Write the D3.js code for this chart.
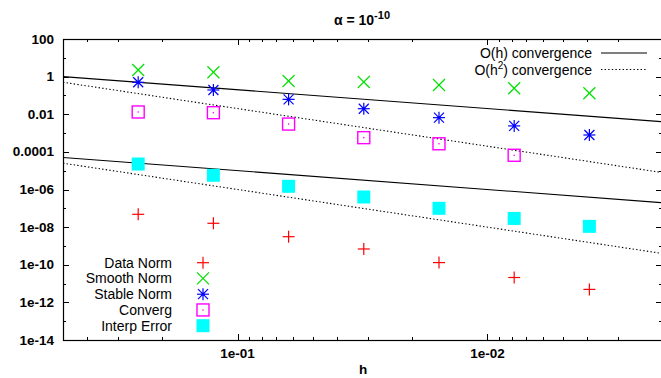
<!DOCTYPE html>
<html>
<head>
<meta charset="utf-8">
<script src="https://cdn.jsdelivr.net/npm/d3@7"></script>
<style>
	body { margin: 0; background: #fff; }
	svg { display: block; font-family: "Liberation Sans", Arial, Helvetica, sans-serif; }
</style>
</head>
<body>
<div id="chart"></div>
<script>
// mesh sizes
var hValues = [0.25, 0.125, 0.0625, 0.03125, 0.015625, 0.0078125, 0.00390625];

// error norms
var dataNorm = [4.8e-8, 1.6e-8, 3.1e-9, 6.9e-10, 1.3e-10, 2.1e-11, 4.9e-12];
var smoothNorm = [2.25, 1.7, 0.585, 0.52, 0.36, 0.24, 0.13];
var stableNorm = [0.5, 0.195, 0.062, 0.0197, 0.0066, 0.0024, 0.00079];
var converg = [0.0132, 0.0121, 0.003, 0.00057, 0.00027, 0.000066];
var interpError = [2.26e-5, 5.7e-6, 1.48e-6, 4.0e-7, 1.0e-7, 2.9e-8, 1.1e-8];

// reference slopes: c*h and c*h^2
var orderOneCoef = [2, 1e-4];
var orderTwoCoef = [2, 1e-4];

var yTickValues = [100, 1, 0.01, 0.0001, 1e-6, 1e-8, 1e-10, 1e-12, 1e-14];
var yTickLabels = ["100", "1", "0.01", "0.0001", "1e-06", "1e-08", "1e-10", "1e-12", "1e-14"];
var yMinorValues = [10, 0.1, 0.001, 1e-5, 1e-7, 1e-9, 1e-11, 1e-13];
var xTickValues = [0.1, 0.01];
var xTickLabels = ["1e-01", "1e-02"];

var series = [
	{name: "Data Norm", values: dataNorm, type: "plus", color: "#ff0000"},
	{name: "Smooth Norm", values: smoothNorm, type: "cross", color: "#00e000"},
	{name: "Stable Norm", values: stableNorm, type: "star", color: "#0000ff"},
	{name: "Converg", values: converg, type: "box", color: "#ff00ff"},
	{name: "Interp Error", values: interpError, type: "fbox", color: "#00ffff"}
];

var W = 661, H = 378;
var mLeft = 63, mRight = 662, mTop = 39, mBottom = 340;

var x = d3.scaleLog().domain([0.5, 0.002]).range([mLeft, mRight]);
var y = d3.scaleLog().domain([1e-14, 100]).range([mBottom, mTop]);

var svg = d3.select("#chart").append("svg")
	.attr("width", W)
	.attr("height", H);

svg.append("clipPath").attr("id", "plotclip")
	.append("rect")
	.attr("x", mLeft).attr("y", mTop)
	.attr("width", mRight - mLeft).attr("height", mBottom - mTop);

function marker(g, type, cx, cy, color) {
	var s = 6;
	if (type == "plus" || type == "star") {
		g.append("line").attr("x1", cx - s).attr("x2", cx + s).attr("y1", cy).attr("y2", cy)
			.attr("stroke", color).attr("stroke-width", 1.2);
		g.append("line").attr("x1", cx).attr("x2", cx).attr("y1", cy - s).attr("y2", cy + s)
			.attr("stroke", color).attr("stroke-width", 1.2);
	}
	if (type == "cross" || type == "star") {
		var d = type == "star" ? 5 : 6;
		g.append("line").attr("x1", cx - d).attr("x2", cx + d).attr("y1", cy - d).attr("y2", cy + d)
			.attr("stroke", color).attr("stroke-width", 1.2);
		g.append("line").attr("x1", cx - d).attr("x2", cx + d).attr("y1", cy + d).attr("y2", cy - d)
			.attr("stroke", color).attr("stroke-width", 1.2);
	}
	if (type == "star") {
		g.append("circle").attr("cx", cx).attr("cy", cy).attr("r", 1.6).attr("fill", color);
	}
	if (type == "box") {
		g.append("rect").attr("x", cx - 6).attr("y", cy - 6).attr("width", 12).attr("height", 12)
			.attr("fill", "none").attr("stroke", color).attr("stroke-width", 1.4);
		g.append("circle").attr("cx", cx).attr("cy", cy).attr("r", 0.8).attr("fill", color);
	}
	if (type == "fbox") {
		g.append("rect").attr("x", cx - 6.5).attr("y", cy - 6.5).attr("width", 13).attr("height", 13)
			.attr("fill", color);
	}
}

// reference lines
var dom = x.domain();
var refs = [];
orderOneCoef.forEach(function(c) {
	refs.push({dash: null, pts: dom.map(function(h) { return [h, c * h]; })});
});
orderTwoCoef.forEach(function(c) {
	refs.push({dash: "1.4,2.2", pts: dom.map(function(h) { return [h, c * h * h]; })});
});

var line = d3.line()
	.x(function(d) { return x(d[0]); })
	.y(function(d) { return y(d[1]); });

svg.append("g").attr("clip-path", "url(#plotclip)")
	.selectAll("path")
	.data(refs)
	.enter().append("path")
	.attr("d", function(d) { return line(d.pts); })
	.attr("fill", "none")
	.attr("stroke", "#000")
	.attr("stroke-width", 1.1)
	.attr("stroke-dasharray", function(d) { return d.dash; });

// points
var pts = svg.append("g");
series.forEach(function(s) {
	s.values.forEach(function(v, i) {
		marker(pts, s.type, x(hValues[i]), y(v), s.color);
	});
});

// frame and ticks
svg.append("rect")
	.attr("x", mLeft + 0.5).attr("y", mTop + 0.5)
	.attr("width", mRight - mLeft).attr("height", mBottom - mTop)
	.attr("fill", "none").attr("stroke", "#000").attr("stroke-width", 1.2);

var ticks = svg.append("g").attr("stroke", "#000").attr("stroke-width", 1);

function yTick(v, len) {
	var py = Math.round(y(v)) + 0.5;
	ticks.append("line").attr("x1", mLeft).attr("x2", mLeft + len).attr("y1", py).attr("y2", py);
	ticks.append("line").attr("x1", mRight - len).attr("x2", mRight).attr("y1", py).attr("y2", py);
}
function xTick(v, len) {
	var px = Math.round(x(v)) + 0.5;
	ticks.append("line").attr("x1", px).attr("x2", px).attr("y1", mBottom).attr("y2", mBottom - len);
	ticks.append("line").attr("x1", px).attr("x2", px).attr("y1", mTop).attr("y2", mTop + len);
}

yTickValues.forEach(function(v) { yTick(v, 6); });
yMinorValues.forEach(function(v) { yTick(v, 3); });
xTickValues.forEach(function(v) { xTick(v, 6); });
x.ticks().forEach(function(v) {
	if (xTickValues.indexOf(v) < 0 && v < 0.5) xTick(v, 3);
});

svg.append("g").selectAll("text")
	.data(yTickValues)
	.enter().append("text")
	.attr("x", 54)
	.attr("y", function(d) { return y(d) + 4.5; })
	.attr("text-anchor", "end")
	.attr("font-size", "13.5px")
	.attr("font-weight", "bold")
	.text(function(d, i) { return yTickLabels[i]; });

svg.append("g").selectAll("text")
	.data(xTickValues)
	.enter().append("text")
	.attr("x", function(d) { return x(d); })
	.attr("y", 358)
	.attr("text-anchor", "middle")
	.attr("font-size", "13.5px")
	.attr("font-weight", "bold")
	.text(function(d, i) { return xTickLabels[i]; });

// axis title and plot title
svg.append("text")
	.attr("x", 363).attr("y", 374)
	.attr("text-anchor", "middle")
	.attr("font-size", "13.5px")
	.attr("font-weight", "bold")
	.text("h");

var title = svg.append("text")
	.attr("x", 362).attr("y", 25)
	.attr("text-anchor", "middle")
	.attr("font-size", "14px")
	.attr("font-weight", "bold");
title.append("tspan").text("\u03b1 = 10");
title.append("tspan").attr("dy", -6).attr("font-size", "11px").text("-10");

// legend, top right
var topLeg = svg.append("g");
[{label: "O(h) convergence", sup: null, dash: null, yy: 53},
 {label: "O(h", sup: "2", rest: ") convergence", dash: "1.4,2.2", yy: 69.5}].forEach(function(d) {
	var t = topLeg.append("text")
		.attr("x", 592).attr("y", d.yy + 5)
		.attr("text-anchor", "end")
		.attr("font-size", "14px");
	t.append("tspan").text(d.label);
	if (d.sup) {
		t.append("tspan").attr("dy", -6).attr("font-size", "10px").text(d.sup);
		t.append("tspan").attr("dy", 6).text(d.rest);
	}
	topLeg.append("line")
		.attr("x1", 601).attr("x2", 647)
		.attr("y1", d.yy).attr("y2", d.yy)
		.attr("stroke", "#000").attr("stroke-width", 1.1)
		.attr("stroke-dasharray", d.dash);
});

// legend, bottom left
var leg = svg.append("g");
series.forEach(function(s, i) {
	var yy = 262.7 + i * 15.75;
	leg.append("text")
		.attr("x", 172).attr("y", yy + 5)
		.attr("text-anchor", "end")
		.attr("font-size", "14px")
		.text(s.name);
	marker(leg, s.type, 203, yy, s.color);
});
</script>
</body>
</html>
